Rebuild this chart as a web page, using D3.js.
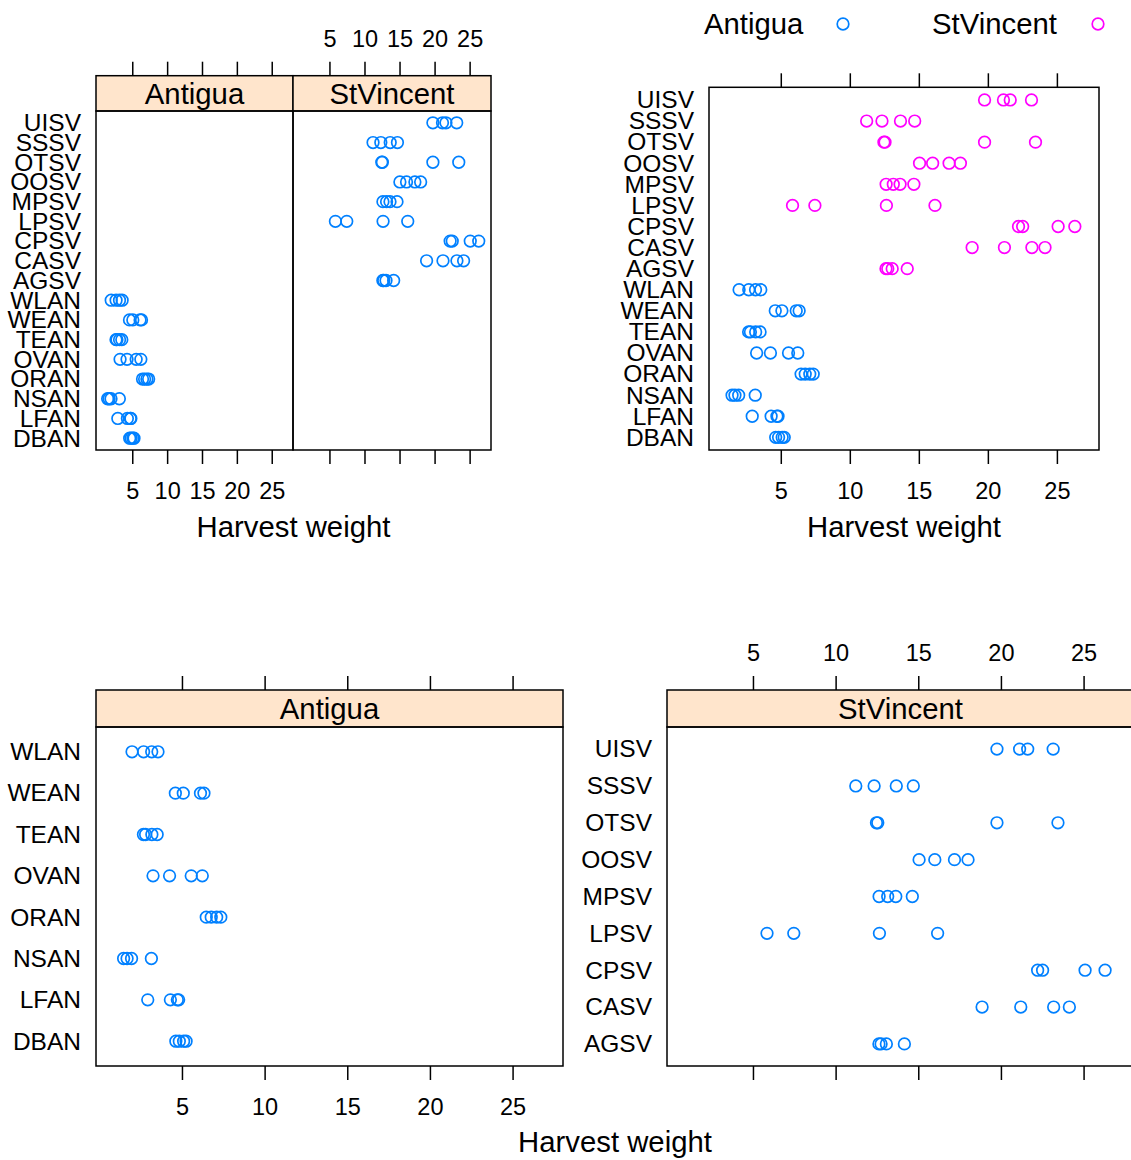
<!DOCTYPE html>
<meta charset="utf-8">
<script src="https://d3js.org/d3.v7.min.js"></script>
<style>
  body { margin: 0; background: #fff; }
  svg text { font-family: "Liberation Sans", Arial, Helvetica, sans-serif; }
</style>
<div id="chart"></div>
<script>
// sites listed bottom to top, the order lattice puts them on the y axis
var antiguaSites = ["DBAN", "LFAN", "NSAN", "ORAN", "OVAN", "TEAN", "WEAN", "WLAN"];
var antiguaHarvest = [
  [4.63, 4.84, 5.10, 5.25],
  [2.93, 4.30, 4.72, 4.80],
  [1.47, 1.68, 1.95, 3.15],
  [6.47, 6.77, 7.10, 7.35],
  [3.25, 4.25, 5.56, 6.23],
  [2.67, 2.80, 3.18, 3.50],
  [4.60, 5.08, 6.12, 6.33],
  [1.98, 2.68, 3.17, 3.55]
];
var vincentSites = ["AGSV", "CASV", "CPSV", "LPSV", "MPSV", "OOSV", "OTSV", "SSSV", "UISV"];
var vincentHarvest = [
  [12.62, 12.75, 13.07, 14.16],
  [18.86, 21.20, 23.19, 24.14],
  [22.22, 22.52, 25.09, 26.30],
  [5.85, 7.47, 12.65, 16.17],
  [12.63, 13.15, 13.64, 14.64],
  [15.05, 16.00, 17.19, 18.01],
  [12.47, 12.55, 19.76, 23.45],
  [11.22, 12.33, 13.67, 14.70],
  [19.76, 21.13, 21.62, 23.16]
];
var islands = ["Antigua", "StVincent"];
var xTicks = [5, 10, 15, 20, 25];

var islandColor = d3.scaleOrdinal().domain(islands).range(["#0080ff", "#ff00ff"]);
var allSites = antiguaSites.concat(vincentSites);

// flatten into one row per plot
function rows(sites, harvest, island) {
  var out = [];
  sites.forEach(function(s, i) {
    harvest[i].forEach(function(v) { out.push({site: s, value: v, island: island}); });
  });
  return out;
}
var antiguaRows = rows(antiguaSites, antiguaHarvest, "Antigua");
var vincentRows = rows(vincentSites, vincentHarvest, "StVincent");

var svg = d3.select("#chart").append("svg")
    .attr("width", 1131)
    .attr("height", 1160);

var bigFont = 29.3, tickFont = 23.5, siteFont = 24.5;

function drawPanel(p) {
  var x = d3.scaleLinear().domain([-0.2, 28.05]).range([p.left, p.right]);
  var n = p.sites.length;
  var y = d3.scaleLinear().domain([0.4, n + 0.6]).range([p.bottom, p.top]);
  var g = svg.append("g");
  var boxTop = p.strip ? p.stripTop : p.top;

  // top axis sits above the strip
  if (p.xTop) {
    var at = g.append("g")
        .attr("transform", "translate(0," + boxTop + ")")
        .call(d3.axisTop(x).tickValues(xTicks).tickSize(14).tickPadding(15)
          .tickFormat(p.xTop == "labels" ? d3.format("d") : ""));
    at.select(".domain").remove();
    at.selectAll("line").attr("stroke-width", 1.5);
    at.selectAll("text").attr("font-size", tickFont).attr("fill", "#000");
  }
  if (p.xBottom) {
    var ab = g.append("g")
        .attr("transform", "translate(0," + p.bottom + ")")
        .call(d3.axisBottom(x).tickValues(xTicks).tickSize(14).tickPadding(18)
          .tickFormat(p.xBottom == "labels" ? d3.format("d") : ""));
    ab.select(".domain").remove();
    ab.selectAll("line").attr("stroke-width", 1.5);
    ab.selectAll("text").attr("font-size", tickFont).attr("fill", "#000");
  }
  if (p.yLabels) {
    var ay = g.append("g")
        .attr("transform", "translate(" + p.left + ",0)")
        .call(d3.axisLeft(y).tickValues(d3.range(1, n + 1)).tickSize(0).tickPadding(15)
          .tickFormat(function(i) { return p.sites[i - 1]; }));
    ay.select(".domain").remove();
    ay.selectAll("text").attr("font-size", siteFont).attr("fill", "#000");
  }
  // let the css font win over the axis default
  g.selectAll("g").attr("font-family", null);

  if (p.strip) {
    g.append("rect")
      .attr("x", p.left).attr("y", p.stripTop)
      .attr("width", p.right - p.left).attr("height", p.top - p.stripTop)
      .attr("fill", "#ffe5cc")
      .attr("stroke", "#000").attr("stroke-width", 1.5);
    g.append("text")
      .attr("x", (p.left + p.right) / 2)
      .attr("y", (p.stripTop + p.top) / 2)
      .attr("dy", "0.35em")
      .attr("text-anchor", "middle")
      .attr("font-size", bigFont)
      .text(p.strip);
  }

  g.selectAll("circle.pt")
    .data(p.points)
    .enter().append("circle")
      .attr("class", "pt")
      .attr("cx", function(d) { return x(d.value); })
      .attr("cy", function(d) { return y(p.sites.indexOf(d.site) + 1); })
      .attr("r", 5.8)
      .attr("fill", "none")
      .attr("stroke", function(d) { return p.grouped ? islandColor(d.island) : "#0080ff"; })
      .attr("stroke-width", 1.7);

  g.append("rect")
    .attr("x", p.left).attr("y", p.top)
    .attr("width", p.right - p.left).attr("height", p.bottom - p.top)
    .attr("fill", "none")
    .attr("stroke", "#000").attr("stroke-width", 1.5);
}

function xlab(cx, baseline) {
  svg.append("text")
    .attr("x", cx).attr("y", baseline)
    .attr("text-anchor", "middle")
    .attr("font-size", bigFont)
    .text("Harvest weight");
}

// top left: one panel per island, all sites on the axis
drawPanel({left: 96, right: 293, stripTop: 75.7, top: 111, bottom: 450,
  strip: "Antigua", sites: allSites, points: antiguaRows,
  xTop: "ticks", xBottom: "labels", yLabels: true});
drawPanel({left: 293, right: 491, stripTop: 75.7, top: 111, bottom: 450,
  strip: "StVincent", sites: allSites, points: vincentRows,
  xTop: "labels", xBottom: "ticks", yLabels: false});
xlab(293.5, 537);

// top right: both islands superposed, coloured by island
drawPanel({left: 709, right: 1099, top: 87.3, bottom: 450, grouped: true,
  strip: null, sites: allSites, points: antiguaRows.concat(vincentRows),
  xTop: "ticks", xBottom: "labels", yLabels: true});
xlab(904, 537);

var legendX = [{name: "Antigua", tx: 704, cx: 843}, {name: "StVincent", tx: 932, cx: 1098}];
var legend = svg.append("g").selectAll("g")
    .data(legendX)
    .enter().append("g");
legend.append("text")
    .attr("x", function(d) { return d.tx; })
    .attr("y", 34)
    .attr("font-size", bigFont)
    .text(function(d) { return d.name; });
legend.append("circle")
    .attr("cx", function(d) { return d.cx; })
    .attr("cy", 24)
    .attr("r", 5.8)
    .attr("fill", "none")
    .attr("stroke", function(d) { return islandColor(d.name); })
    .attr("stroke-width", 1.7);

// bottom: separate panels, each with only its own sites
drawPanel({left: 96, right: 563, stripTop: 690, top: 727, bottom: 1066,
  strip: "Antigua", sites: antiguaSites, points: antiguaRows,
  xTop: "ticks", xBottom: "labels", yLabels: true});
drawPanel({left: 667, right: 1134, stripTop: 690, top: 727, bottom: 1066,
  strip: "StVincent", sites: vincentSites, points: vincentRows,
  xTop: "labels", xBottom: "ticks", yLabels: true});
xlab(615, 1152);
</script>
